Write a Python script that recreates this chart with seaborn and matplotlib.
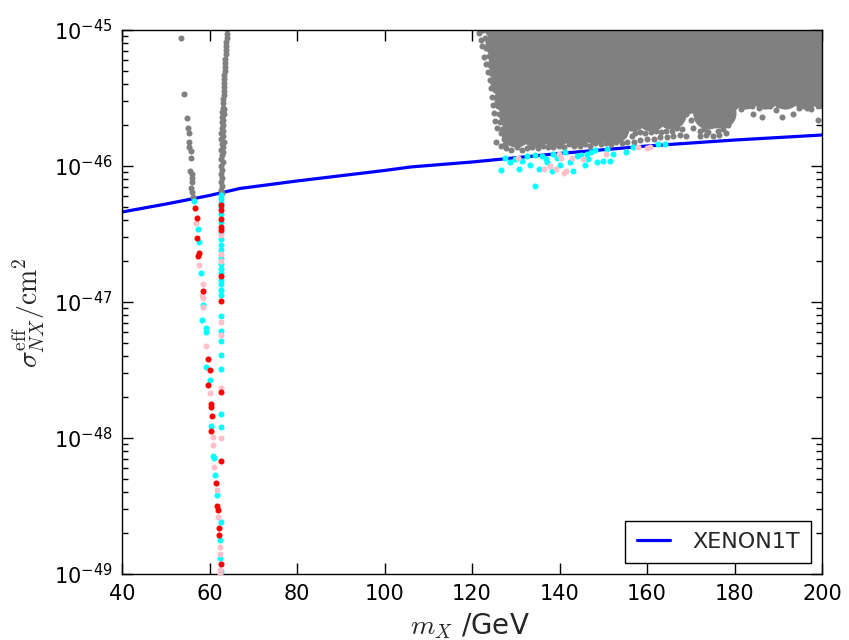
import matplotlib
matplotlib.use("Agg")
import numpy as np
import pandas as pd
import seaborn as sns
import matplotlib.pyplot as plt

# XENON1T limit (m_X in GeV, sigma in cm^2)
xenon_mx = [40, 50, 60, 67, 80, 100, 106, 120, 140, 160, 180, 200]
xenon_sigma = [4.59e-47, 5.25e-47, 6.07e-47, 6.84e-47, 7.76e-47, 9.27e-47, 9.84e-47,
               1.07e-46, 1.236e-46, 1.403e-46, 1.552e-46, 1.69e-46]

# scan points as (m_X [GeV], log10 sigma [cm^2])
# dense excluded region at high mass (drawn with large markers to fill it)
gray_core = [
    (126, -44.96), (130.5, -44.96), (135, -44.96), (139.5, -44.96), (144, -44.96), (148.5, -44.96),
    (153, -44.96), (157.5, -44.96), (162, -44.96), (166.5, -44.96), (171, -44.96), (175.5, -44.96),
    (180, -44.96), (184.5, -44.96), (189, -44.96), (193.5, -44.96), (198, -44.96), (202, -44.96),
    (126.5, -45.10), (131, -45.10), (135.5, -45.10), (140, -45.10), (144.5, -45.10), (149, -45.10),
    (153.5, -45.10), (158, -45.10), (162.5, -45.10), (167, -45.10), (171.5, -45.10), (176, -45.10),
    (180.5, -45.10), (185, -45.10), (189.5, -45.10), (194, -45.10), (198.5, -45.10), (202, -45.10),
    (127, -45.24), (131.5, -45.24), (136, -45.24), (140.5, -45.24), (145, -45.24), (149.5, -45.24),
    (154, -45.24), (158.5, -45.24), (163, -45.24), (167.5, -45.24), (172, -45.24), (176.5, -45.24),
    (181, -45.24), (185.5, -45.24), (190, -45.24), (194.5, -45.24), (199, -45.24), (202, -45.24),
    (127.5, -45.38), (132, -45.38), (136.5, -45.38), (141, -45.38), (145.5, -45.38), (150, -45.38),
    (154.5, -45.38), (159, -45.38), (163.5, -45.38), (168, -45.38), (172.5, -45.38), (177, -45.38),
    (181.5, -45.38), (186, -45.38), (190.5, -45.38), (195, -45.38), (199.5, -45.38), (202, -45.38),
    (128.5, -45.51), (133, -45.51), (137.5, -45.51), (142, -45.51), (146.5, -45.51), (151, -45.51),
    (155.5, -45.51), (160, -45.51), (164.5, -45.51), (169, -45.51), (173.5, -45.51), (178, -45.50),
    (182.5, -45.47), (187, -45.47), (191.5, -45.47), (196, -45.47), (200.5, -45.47),
    (129.5, -45.63), (134, -45.63), (138.5, -45.63), (143, -45.63), (147.5, -45.63), (152, -45.63),
    (156.5, -45.63), (161, -45.63), (165.5, -45.62), (174, -45.62), (177, -45.61),
    (130, -45.75), (134.5, -45.75), (139, -45.75), (143.5, -45.74), (148, -45.73), (152.5, -45.72),
]

gray_pts = [
    # left edge of the high-mass region
    (121.4, -44.97), (121.7, -45.02), (122.6, -45.00), (122.0, -45.07), (123.0, -45.06), (122.3, -45.12),
    (123.3, -45.13), (122.7, -45.20), (123.8, -45.19), (123.2, -45.25), (124.2, -45.26), (123.6, -45.31),
    (124.6, -45.32), (124.0, -45.37), (125.0, -45.38), (124.3, -45.43), (125.3, -45.44), (124.6, -45.49),
    (125.6, -45.50), (124.8, -45.55), (125.9, -45.56), (125.1, -45.61), (126.2, -45.62), (125.3, -45.67),
    (126.5, -45.68), (125.6, -45.72), (126.8, -45.73), (126.6, -45.76), (125.5, -45.82), (127.2, -45.80),
    (126.6, -45.85), (127.6, -45.84),
    # lower edge just above the limit
    (127.8, -45.87), (129.0, -45.88), (130.2, -45.86), (131.4, -45.88), (132.6, -45.87), (133.8, -45.86),
    (135.0, -45.87), (136.2, -45.85), (137.4, -45.86), (138.6, -45.86), (139.8, -45.85), (141.0, -45.86),
    (142.2, -45.84), (143.4, -45.85), (144.6, -45.85), (145.8, -45.84), (147.0, -45.85), (148.2, -45.83),
    (149.4, -45.84), (150.6, -45.83), (151.8, -45.84), (153.0, -45.82), (154.2, -45.83), (155.4, -45.82),
    (128.4, -45.82), (130.8, -45.81), (133.2, -45.82), (135.6, -45.81), (138.0, -45.81), (140.4, -45.80),
    (142.8, -45.80), (145.2, -45.79), (147.6, -45.79), (150.0, -45.78), (152.4, -45.78), (154.8, -45.77),
    (156.6, -45.78),
    (157.0, -45.82), (158.5, -45.81), (160.0, -45.80), (161.5, -45.80), (163.0, -45.79), (164.5, -45.79),
    (166.0, -45.78), (167.5, -45.77), (169.0, -45.78), (172.0, -45.78), (173.5, -45.77), (175.0, -45.78),
    (176.5, -45.77), (178.0, -45.76),
    (157.2, -45.76), (158.4, -45.75), (159.6, -45.76), (160.8, -45.75), (162.0, -45.74), (163.2, -45.75),
    (164.4, -45.74), (165.6, -45.74), (166.8, -45.72), (168.0, -45.73), (172.0, -45.74), (173.0, -45.73),
    (174.0, -45.75), (175.5, -45.70), (176.2, -45.74), (177.4, -45.73), (158.0, -45.70), (161.0, -45.70),
    (164.0, -45.69), (167.0, -45.68), (170.0, -45.66), (173.0, -45.69), (176.0, -45.68), (178.5, -45.70),
    (179.0, -45.65), (157.5, -45.68), (159.5, -45.69), (163.5, -45.67), (165.5, -45.70), (167.5, -45.66),
    (169.0, -45.62), (171.0, -45.60), (172.5, -45.64), (170.5, -45.72), (177.5, -45.66),
    (178.5, -45.60), (180.0, -45.56), (181.5, -45.58), (183.0, -45.55), (184.2, -45.62), (185.5, -45.57),
    (186.3, -45.64), (188.0, -45.56), (189.5, -45.59), (190.9, -45.64), (192.0, -45.55), (193.4, -45.62),
    (194.8, -45.57), (196.0, -45.54), (197.5, -45.58), (199.1, -45.66), (200.0, -45.55), (179.5, -45.52),
    (182.5, -45.50), (185.5, -45.51), (188.5, -45.50), (191.5, -45.51), (194.5, -45.50), (197.5, -45.51),
    (181.0, -45.54), (184.0, -45.56), (187.0, -45.54), (190.0, -45.55), (193.0, -45.54), (196.5, -45.57),
    (199.0, -45.56),
    # narrow strip at m_X ~ m_h/2
    (64.0, -44.99), (63.9, -45.03), (63.9, -45.06), (63.8, -45.09), (63.8, -45.12), (63.7, -45.15),
    (63.7, -45.18), (63.6, -45.21), (63.6, -45.24), (63.5, -45.27), (63.5, -45.30), (63.4, -45.33),
    (63.4, -45.36), (63.3, -45.39), (63.3, -45.42), (63.2, -45.45), (63.2, -45.48), (63.1, -45.51),
    (63.1, -45.54), (63.0, -45.57), (63.3, -45.58), (62.9, -45.60), (63.2, -45.62), (62.9, -45.64),
    (63.1, -45.66), (62.8, -45.68), (63.0, -45.70), (62.8, -45.72), (63.1, -45.74), (62.7, -45.76),
    (63.0, -45.78), (62.7, -45.80), (63.2, -45.82), (62.8, -45.84), (63.0, -45.86), (62.6, -45.88),
    (63.1, -45.90), (62.8, -45.92), (62.6, -45.95), (63.0, -45.97), (62.7, -46.00), (62.9, -46.03),
    (62.6, -46.06), (62.9, -46.09), (62.7, -46.12), (62.8, -46.15), (62.6, -46.18), (62.8, -46.20),
    # sparse slanted branch
    (53.4, -45.06), (54.2, -45.47), (54.8, -45.65), (55.0, -45.72), (55.4, -45.76), (55.2, -45.82),
    (55.3, -45.86), (55.7, -45.89), (55.8, -45.94), (55.5, -46.04), (56.1, -46.06), (56.0, -46.09),
    (55.9, -46.12), (55.8, -46.16), (56.1, -46.19), (56.3, -46.23),
]

cyan_pts = [
    (56.5, -46.26), (57.3, -46.46), (57.6, -46.56), (58.0, -46.79), (58.6, -47.02), (58.2, -47.13),
    (59.1, -47.19), (59.3, -47.22), (59.3, -47.48), (60.0, -47.57), (60.3, -47.91), (60.8, -48.13),
    (61.0, -48.15), (61.2, -48.27), (61.6, -48.42), (62.3, -48.75), (62.5, -48.88),
    (62.7, -46.21), (62.6, -46.24), (62.7, -46.27), (62.6, -46.30), (62.7, -46.35), (62.6, -46.41),
    (62.7, -46.49), (62.6, -46.54), (62.7, -46.58), (62.6, -46.62), (62.7, -46.68), (62.6, -46.72),
    (62.7, -46.76), (62.6, -46.79), (62.7, -46.84), (62.6, -46.87), (62.7, -46.91), (62.6, -46.95),
    (62.6, -47.10), (62.6, -47.21), (62.6, -47.29), (62.6, -47.39), (62.6, -47.49), (62.6, -47.82),
    (62.6, -47.92), (62.7, -48.62), (62.6, -48.98),
    (127.5, -45.94), (128.7, -45.97), (126.6, -46.03), (130.8, -46.02), (129.8, -45.95), (131.5, -45.96),
    (133.3, -45.99), (134.4, -45.92), (135.9, -45.93), (135.2, -46.02), (134.5, -46.15), (137.1, -45.97),
    (138.2, -46.04), (138.6, -45.91), (140.1, -45.99), (141.3, -45.90), (142.4, -45.97), (143.1, -46.04),
    (143.9, -45.93), (144.8, -45.92), (145.8, -45.99), (146.2, -45.91), (147.2, -45.90), (148.1, -45.88),
    (148.5, -45.97), (150.0, -45.96), (151.5, -45.96), (150.8, -45.875), (152.3, -45.91), (155.3, -45.895),
    (156.9, -45.86), (162.6, -45.84), (164.1, -45.84), (132.5, -45.93), (136.8, -45.95), (139.5, -45.94),
    (146.5, -45.95),
]

pink_pts = [
    (56.9, -46.42), (57.6, -46.73), (58.4, -46.87), (58.3, -46.95), (58.6, -46.97), (58.6, -47.04),
    (59.1, -47.32), (60.1, -47.67), (60.8, -47.99), (60.8, -48.05), (61.0, -48.21), (61.6, -48.38),
    (62.0, -48.58), (62.4, -48.80), (62.5, -48.85), (62.5, -48.97), (62.3, -49.00),
    (62.6, -46.51), (62.6, -46.65), (62.6, -46.70), (62.6, -47.15), (62.6, -47.24), (62.6, -47.63),
    (62.6, -48.00),
    (130.6, -45.94), (136.5, -46.02), (139.2, -46.02), (139.9, -45.91), (140.3, -45.94), (141.4, -46.04),
    (141.0, -46.05), (142.8, -45.94), (145.4, -45.95), (150.6, -45.91), (158.0, -45.86), (159.9, -45.87),
    (160.7, -45.86), (137.8, -46.00),
]

red_pts = [
    (56.7, -46.31), (57.1, -46.38), (57.1, -46.53), (57.3, -46.66), (57.6, -46.64), (58.4, -46.92),
    (59.6, -47.42), (60.0, -47.50), (59.6, -47.61), (60.3, -47.75), (60.4, -47.77), (60.6, -47.84),
    (60.4, -47.95), (61.4, -48.33), (61.8, -48.50), (61.9, -48.53), (62.1, -48.66), (62.2, -48.71),
    (62.6, -48.93),
    (62.6, -46.29), (62.6, -46.32), (62.6, -46.39), (62.6, -46.45), (62.6, -46.47), (62.6, -46.81),
    (62.6, -46.99), (62.6, -47.66), (62.6, -48.17),
]

x_ticks = [40, 60, 80, 100, 120, 140, 160, 180, 200]
y_decades = [-49, -48, -47, -46, -45]


def to_frame(pts):
    df = pd.DataFrame(pts, columns=["mx", "logsig"])
    df["sigma"] = 10.0 ** df["logsig"]
    return df


sns.set_theme(style="ticks")
plt.rcParams.update({
    "font.family": ["DejaVu Sans"],
    "mathtext.fontset": "cm",
    "xtick.direction": "in",
    "ytick.direction": "in",
    "xtick.top": True,
    "ytick.right": True,
    "xtick.major.size": 8,
    "ytick.major.size": 8,
    "ytick.minor.size": 4,
    "xtick.major.width": 1.0,
    "ytick.major.width": 1.0,
    "axes.edgecolor": "black",
    "axes.linewidth": 1.0,
    "xtick.color": "black",
    "ytick.color": "black",
})

fig = plt.figure(figsize=(8.49, 6.40), dpi=100)
ax = fig.add_axes([122 / 849, 1 - 574 / 640, 700 / 849, 544 / 640])

sns.lineplot(x=xenon_mx, y=xenon_sigma, color="#0000ff", linewidth=2.3, label="XENON1T", ax=ax, zorder=1)

dot = 19
sns.scatterplot(data=to_frame(gray_core), x="mx", y="sigma", color="#808080", s=470, linewidth=0,
                legend=False, ax=ax, zorder=2)
sns.scatterplot(data=to_frame(gray_pts), x="mx", y="sigma", color="#808080", s=dot, linewidth=0,
                legend=False, ax=ax, zorder=2)
sns.scatterplot(data=to_frame(cyan_pts), x="mx", y="sigma", color="#00ffff", s=dot, linewidth=0,
                legend=False, ax=ax, zorder=3)
sns.scatterplot(data=to_frame(pink_pts), x="mx", y="sigma", color="#ffc0cb", s=dot, linewidth=0,
                legend=False, ax=ax, zorder=4)
sns.scatterplot(data=to_frame(red_pts), x="mx", y="sigma", color="#ff0000", s=dot, linewidth=0,
                legend=False, ax=ax, zorder=5)

ax.set_yscale("log")
ax.set_xlim(40, 200)
ax.set_ylim(1e-49, 1e-45)
ax.set_xticks(x_ticks)
ax.set_yticks([10.0 ** d for d in y_decades])
ax.set_yticks([m * 10.0 ** d for d in y_decades[:-1] for m in range(2, 10)], minor=True)
ax.set_yticklabels([r"$\mathdefault{10^{%d}}$" % d for d in y_decades])
ax.tick_params(axis="both", which="major", labelsize=15, pad=7)
ax.tick_params(axis="y", which="minor", labelleft=False)
ax.set_xlabel(r"$m_X$ /GeV", fontsize=20)
ax.set_ylabel(r"$\sigma^{\rm eff}_{NX}/{\rm cm}^2$", fontsize=20)
ax.xaxis.set_label_coords(0.497, -0.068)
ax.yaxis.set_label_coords(-0.107, 0.48)

leg = ax.legend(loc="lower right", fontsize=16, fancybox=False, edgecolor="black", framealpha=1,
                handlelength=1.5, handletextpad=1.0, borderpad=0.5)
leg.get_frame().set_linewidth(1.0)

fig.savefig("out.png", dpi=100)
